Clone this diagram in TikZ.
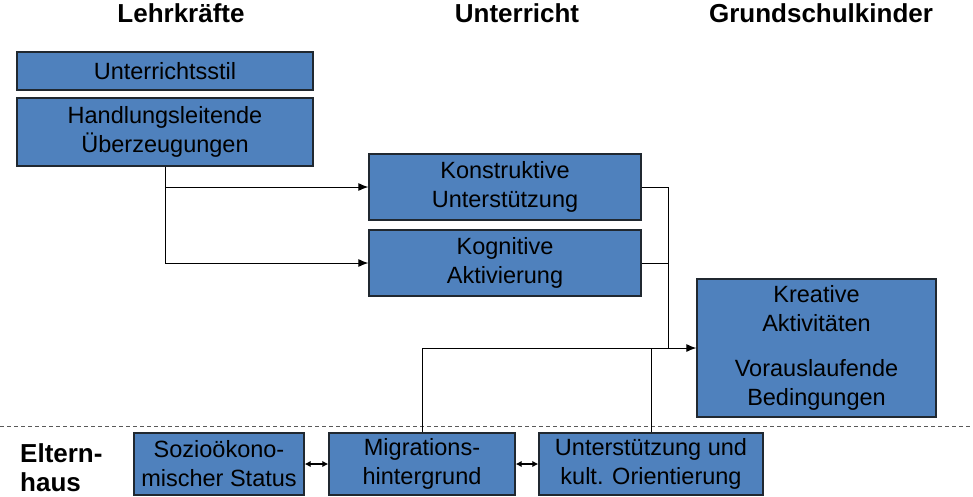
\documentclass[tikz,border=0pt]{standalone}
\usepackage{fontspec}
\setmainfont{Liberation Sans}
\usetikzlibrary{arrows.meta}
\definecolor{boxblue}{HTML}{4F81BD}
\definecolor{boxline}{HTML}{202830}
\begin{document}
\begin{tikzpicture}[x=1pt,y=-1pt,
  box/.style={draw=boxline,line width=1.3pt,fill=boxblue,align=center,inner sep=0pt,
    font=\fontsize{23.5}{29}\selectfont},
  head/.style={font=\fontsize{26}{30}\selectfont\bfseries,inner sep=0pt},
  conn/.style={line width=1pt,black},
  arr/.style={conn,-{Latex[length=10pt,width=8pt]}},
  dbl/.style={line width=1.4pt,black,{Latex[length=6pt,width=6.5pt]}-{Latex[length=6pt,width=6.5pt]}}]
\useasboundingbox (0,0) rectangle (973,496);
% headings
\node[head] (h1) at (181,13) {Lehrkräfte};
\node[head] (h2) at (517,13) {Unterricht};
\node[head] (h3) at (821,13) {Grundschulkinder};
\node[head,align=left,anchor=west,font=\fontsize{26}{29}\selectfont\bfseries] (eh) at (20,468) {Eltern-\\haus};
% dashed separator
\draw[gray!70!black,line width=1pt,dash pattern=on 4pt off 3pt] (0,426) coordinate (d1) -- (973,426) coordinate (d2);
% boxes
\node[box,minimum width=296pt,minimum height=38pt] (us) at (165,71) {Unterrichtsstil};
\node[box,minimum width=296pt,minimum height=68pt] (hu) at (165,132) {Handlungsleitende\\Überzeugungen};
\node[box,minimum width=272pt,minimum height=66pt] (ku) at (505,187) {Konstruktive\\Unterstützung};
\node[box,minimum width=272pt,minimum height=66pt] (ka) at (505,263) {Kognitive\\Aktivierung};
\node[box,minimum width=239pt,minimum height=138pt] (kr) at (816.5,348) {Kreative\\Aktivitäten\\[16pt]Vorauslaufende\\Bedingungen};
\node[box,minimum width=170pt,minimum height=62pt] (so) at (219,464) {Sozioökono-\\mischer Status};
\node[box,minimum width=186pt,minimum height=62pt] (mi) at (422,464) {Migrations-\\hintergrund};
\node[box,minimum width=224pt,minimum height=62pt] (ut) at (651,464) {Unterstützung und\\kult. Orientierung};
% connectors
\coordinate (j) at (668,348);
\draw[arr] (hu.south) |- (ku.west);
\draw[arr] (hu.south) |- (ka.west);
\draw[conn] (ku.east) -| (j);
\draw[conn] (ka.east) -| (j);
\draw[arr] (mi.north) |- (kr.west);
\draw[conn] (ut.north) -- (ut.north |- kr.west);
\draw[dbl] (so.east) -- (mi.west);
\draw[dbl] (mi.east) -- (ut.west);
\end{tikzpicture}
\end{document}
